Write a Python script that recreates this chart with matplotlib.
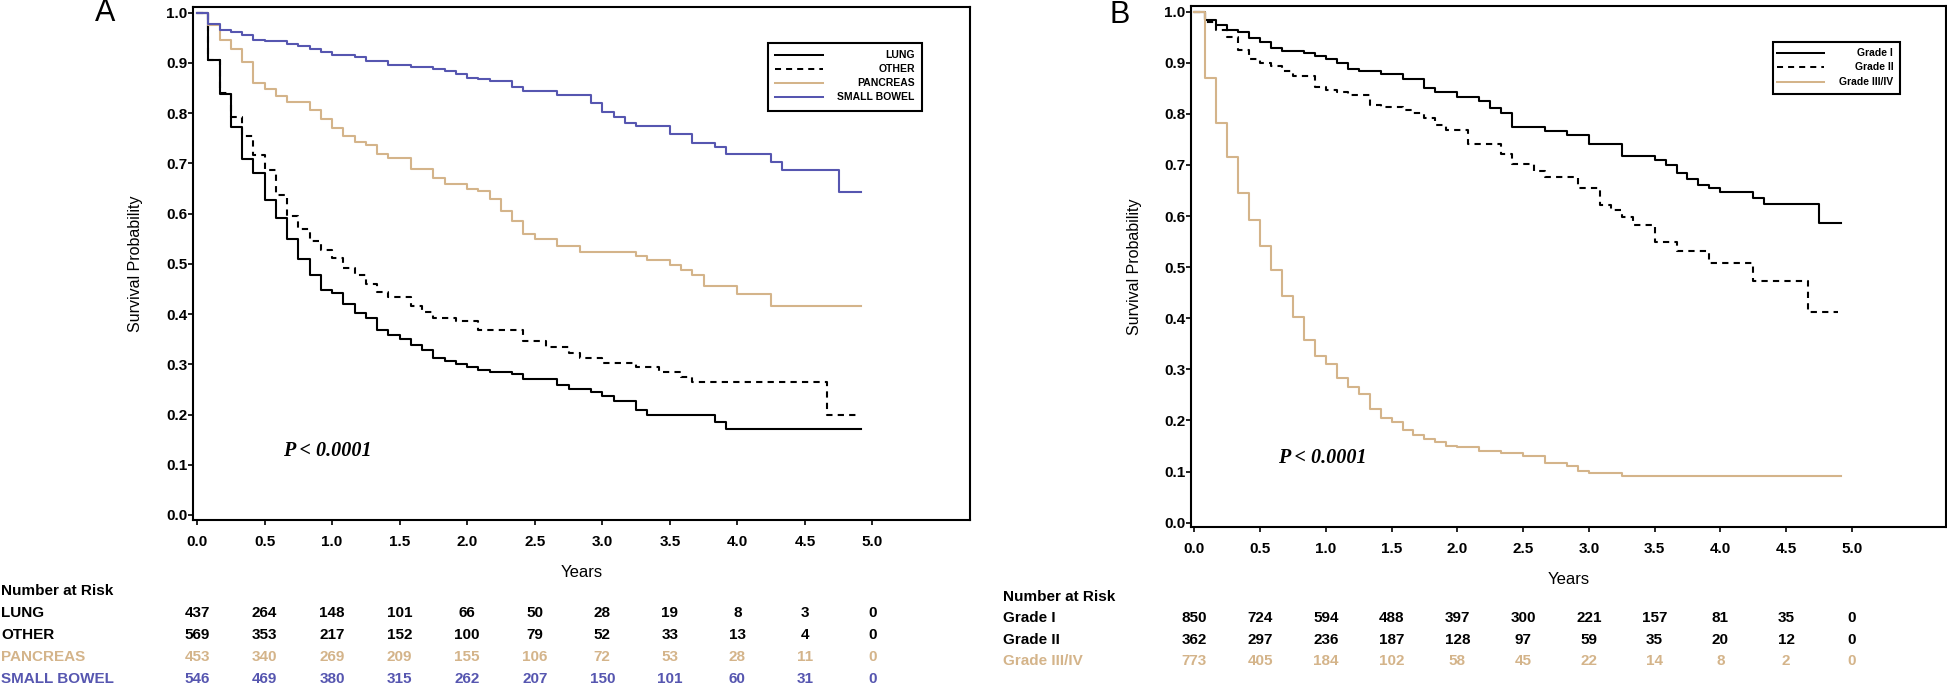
import matplotlib.pyplot as plt
import matplotlib.transforms as mtransforms
from matplotlib.patches import Rectangle
import numpy as np

plt.rcParams['font.family'] = ['Liberation Sans', 'DejaVu Sans']
plt.rcParams['font.weight'] = 'bold'

TAN = '#D4B48A'
BLUE = '#5656B0'

# ---- panel A: survival by primary site (step times in months) ----
lung_months = [0, 1, 2, 3, 4, 5, 6, 7, 8, 9, 10, 11, 12, 13, 14, 15, 16, 17, 18, 19, 20,
               21, 22, 23, 24, 25, 26, 28, 29, 32, 33, 35, 36, 37, 39, 40, 46, 47, 59]
lung_surv = [1.0, 0.906, 0.838, 0.773, 0.708, 0.681, 0.627, 0.591, 0.549, 0.510, 0.478,
             0.448, 0.441, 0.421, 0.402, 0.392, 0.368, 0.358, 0.350, 0.338, 0.328, 0.312,
             0.307, 0.301, 0.294, 0.289, 0.284, 0.280, 0.271, 0.259, 0.251, 0.244, 0.237,
             0.227, 0.209, 0.199, 0.186, 0.171, 0.171]

other_months = [0, 1, 2, 3, 4, 5, 6, 7, 8, 9, 10, 11, 12, 13, 14, 15, 16, 17, 19, 20, 21,
                23, 25, 29, 31, 33, 34, 36, 39, 41, 43, 44, 56, 58.6]
other_surv = [1.0, 0.905, 0.840, 0.792, 0.755, 0.716, 0.687, 0.637, 0.595, 0.569, 0.546,
              0.528, 0.512, 0.491, 0.478, 0.460, 0.443, 0.433, 0.416, 0.405, 0.392, 0.386,
              0.369, 0.346, 0.335, 0.323, 0.312, 0.302, 0.295, 0.285, 0.275, 0.265, 0.199,
              0.199]

pancreas_months = [0, 1, 2, 3, 4, 5, 6, 7, 8, 10, 11, 12, 13, 14, 15, 16, 17, 19, 21, 22,
                   24, 25, 26, 27, 28, 29, 30, 32, 34, 39, 40, 42, 43, 44, 45, 48, 51, 59]
pancreas_surv = [1.0, 0.976, 0.946, 0.927, 0.901, 0.861, 0.849, 0.835, 0.823, 0.806,
                 0.788, 0.770, 0.755, 0.743, 0.737, 0.719, 0.710, 0.689, 0.670, 0.658,
                 0.650, 0.646, 0.629, 0.605, 0.586, 0.559, 0.549, 0.536, 0.524, 0.516,
                 0.508, 0.498, 0.488, 0.478, 0.456, 0.439, 0.417, 0.417]

bowel_months = [0, 1, 2, 3, 4, 5, 6, 8, 9, 10, 11, 12, 14, 15, 17, 19, 21, 22, 23, 24, 25,
                26, 28, 29, 32, 35, 36, 37, 38, 39, 42, 44, 46, 47, 51, 52, 57, 59]
bowel_surv = [1.0, 0.977, 0.966, 0.961, 0.955, 0.946, 0.943, 0.938, 0.933, 0.928, 0.921,
              0.915, 0.911, 0.904, 0.896, 0.891, 0.888, 0.883, 0.878, 0.871, 0.868, 0.865,
              0.852, 0.845, 0.836, 0.820, 0.803, 0.792, 0.780, 0.774, 0.759, 0.741, 0.732,
              0.719, 0.703, 0.686, 0.644, 0.644]

# ---- panel B: survival by grade ----
grade1_months = [0, 1, 2, 3, 4, 5, 6, 7, 8, 10, 11, 12, 13, 14, 15, 17, 19, 21, 22, 24, 26,
                 27, 28, 29, 32, 34, 36, 39, 42, 43, 44, 45, 46, 47, 48, 51, 52, 57, 59]
grade1_surv = [1.0, 0.984, 0.973, 0.964, 0.960, 0.948, 0.941, 0.928, 0.923, 0.919, 0.913,
               0.907, 0.899, 0.887, 0.883, 0.878, 0.868, 0.850, 0.843, 0.834, 0.826, 0.812,
               0.801, 0.775, 0.767, 0.759, 0.741, 0.718, 0.710, 0.700, 0.685, 0.673, 0.661,
               0.654, 0.647, 0.635, 0.624, 0.586, 0.586]

grade2_months = [0, 1, 2, 3, 4, 5, 6, 7, 8, 9, 11, 12, 13, 14, 16, 17, 19, 20, 21, 22, 23,
                 25, 28, 29, 31, 32, 35, 37, 38, 39, 40, 42, 44, 47, 51, 56, 58.7]
grade2_surv = [1.0, 0.980, 0.964, 0.950, 0.926, 0.907, 0.900, 0.894, 0.883, 0.874, 0.852,
               0.847, 0.843, 0.836, 0.817, 0.814, 0.808, 0.801, 0.791, 0.778, 0.768, 0.742,
               0.721, 0.701, 0.689, 0.677, 0.654, 0.622, 0.612, 0.599, 0.583, 0.550, 0.532,
               0.509, 0.473, 0.413, 0.413]

grade34_months = [0, 1, 2, 3, 4, 5, 6, 7, 8, 9, 10, 11, 12, 13, 14, 15, 16, 17, 18, 19, 20,
                  21, 22, 23, 24, 26, 28, 30, 32, 34, 35, 36, 39, 59]
grade34_surv = [1.0, 0.870, 0.783, 0.716, 0.646, 0.592, 0.542, 0.495, 0.444, 0.403, 0.358,
                0.326, 0.310, 0.283, 0.266, 0.252, 0.222, 0.204, 0.198, 0.181, 0.172, 0.163,
                0.157, 0.151, 0.148, 0.141, 0.137, 0.131, 0.116, 0.110, 0.102, 0.097, 0.091,
                0.091]

# ---- number at risk tables ----
risk_years = [0.0, 0.5, 1.0, 1.5, 2.0, 2.5, 3.0, 3.5, 4.0, 4.5, 5.0]
risk_a_names = ['LUNG', 'OTHER', 'PANCREAS', 'SMALL BOWEL']
risk_lung = [437, 264, 148, 101, 66, 50, 28, 19, 8, 3, 0]
risk_other = [569, 353, 217, 152, 100, 79, 52, 33, 13, 4, 0]
risk_pancreas = [453, 340, 269, 209, 155, 106, 72, 53, 28, 11, 0]
risk_bowel = [546, 469, 380, 315, 262, 207, 150, 101, 60, 31, 0]

risk_b_names = ['Grade I', 'Grade II', 'Grade III/IV']
risk_grade1 = [850, 724, 594, 488, 397, 300, 221, 157, 81, 35, 0]
risk_grade2 = [362, 297, 236, 187, 128, 97, 59, 35, 20, 12, 0]
risk_grade34 = [773, 405, 184, 102, 58, 45, 22, 14, 8, 2, 0]

xticks = [0.0, 0.5, 1.0, 1.5, 2.0, 2.5, 3.0, 3.5, 4.0, 4.5, 5.0]
yticks = [0.0, 0.1, 0.2, 0.3, 0.4, 0.5, 0.6, 0.7, 0.8, 0.9, 1.0]


def draw_km(ax, curves, xlim, ylim):
    for months, surv, color, dashed in curves:
        t = np.array(months) / 12.0
        line, = ax.step(t, surv, where='post', color=color, lw=1.5)
        if dashed:
            line.set_dashes((3, 2.5))
    ax.set_xlim(*xlim)
    ax.set_ylim(*ylim)
    ax.set_xticks(xticks)
    ax.set_yticks(yticks)
    ax.set_xticklabels([f"{v:.1f}" for v in xticks])
    ax.set_yticklabels([f"{v:.1f}" for v in yticks])
    ax.tick_params(axis='both', direction='out', length=3.6, width=1.2, labelsize=11)
    ax.tick_params(axis='y', pad=0.5)
    ax.tick_params(axis='x', pad=7)
    for sp in ax.spines.values():
        sp.set_linewidth(1.5)
    ax.set_ylabel('Survival Probability', fontsize=11.5)
    ax.set_xlabel('Years', fontsize=12, va='center')
    # log-rank p value
    ax.text(0.637, 0.127, 'P < 0.0001', family=['Liberation Serif', 'DejaVu Serif'],
            style='italic', fontweight='bold', fontsize=14.5, va='center', ha='left')


def draw_legend(ax, box, entries, line_x, text_x):
    x0, y0, x1, y1 = box
    ax.add_patch(Rectangle((x0, y0), x1 - x0, y1 - y0, transform=ax.transAxes,
                           fill=False, edgecolor='black', lw=1.5, zorder=5))
    for label, color, dashed, y in entries:
        ln, = ax.plot(line_x, [y, y], transform=ax.transAxes, color=color, lw=1.45,
                      zorder=6)
        if dashed:
            ln.set_dashes((3, 2.5))
        ax.text(text_x, y, label, transform=ax.transAxes, ha='right', va='center',
                fontsize=7.5, zorder=6)


def draw_risk(ax, fig, names, rows, colors, label_x, header_y, row_ys):
    # x in data units (years), y in figure fraction
    trans = mtransforms.blended_transform_factory(ax.transData, fig.transFigure)
    fig.text(label_x, header_y, 'Number at Risk', ha='left', va='center', fontsize=11)
    for name, counts, color, y in zip(names, rows, colors, row_ys):
        fig.text(label_x, y, name, ha='left', va='center', fontsize=11, color=color)
        for t, n in zip(risk_years, counts):
            ax.text(t, y, str(n), transform=trans, ha='center', va='center',
                    fontsize=11, color=color, clip_on=False)


fig = plt.figure(figsize=(19.47, 6.86), dpi=100)
ax_a = fig.add_axes([0.0991, 0.2420, 0.3991, 0.7478])
ax_b = fig.add_axes([0.6117, 0.2318, 0.3878, 0.7595])

# panel A
draw_km(ax_a, [(lung_months, lung_surv, 'black', False),
               (other_months, other_surv, 'black', True),
               (pancreas_months, pancreas_surv, TAN, False),
               (bowel_months, bowel_surv, BLUE, False)],
        (-0.030, 5.722), (-0.010, 1.0114))
ax_a.yaxis.set_label_coords(-0.064, 0.5)
ax_a.xaxis.set_label_coords(0.5, -0.103)
draw_legend(ax_a, (0.740, 0.797, 0.938, 0.930),
            [('LUNG', 'black', False, 0.906), ('OTHER', 'black', True, 0.879),
             ('PANCREAS', TAN, False, 0.851), ('SMALL BOWEL', BLUE, False, 0.825)],
            [0.749, 0.811], 0.929)
draw_risk(ax_a, fig, risk_a_names, [risk_lung, risk_other, risk_pancreas, risk_bowel],
          ['black', 'black', TAN, BLUE], 0.0005, 0.1385,
          [0.1064, 0.0743, 0.0423, 0.0102])
fig.text(105 / 1947, 1 - 13 / 686, 'A', fontsize=22, fontweight='normal',
         ha='center', va='center')

# panel B
draw_km(ax_b, [(grade1_months, grade1_surv, 'black', False),
               (grade2_months, grade2_surv, 'black', True),
               (grade34_months, grade34_surv, TAN, False)],
        (-0.025, 5.716), (-0.0084, 1.0112))
ax_b.yaxis.set_label_coords(-0.065, 0.5)
ax_b.xaxis.set_label_coords(0.5, -0.1017)
draw_legend(ax_b, (0.771, 0.831, 0.939, 0.931),
            [('Grade I', 'black', False, 0.910), ('Grade II', 'black', True, 0.883),
             ('Grade III/IV', TAN, False, 0.854)],
            [0.776, 0.838], 0.930)
draw_risk(ax_b, fig, risk_b_names, [risk_grade1, risk_grade2, risk_grade34],
          ['black', 'black', TAN], 1003 / 1947, 0.1297, [0.0991, 0.0671, 0.0364])
fig.text(1120 / 1947, 1 - 15 / 686, 'B', fontsize=22, fontweight='normal',
         ha='center', va='center')

fig.savefig('out.png', dpi=100)
plt.close(fig)
